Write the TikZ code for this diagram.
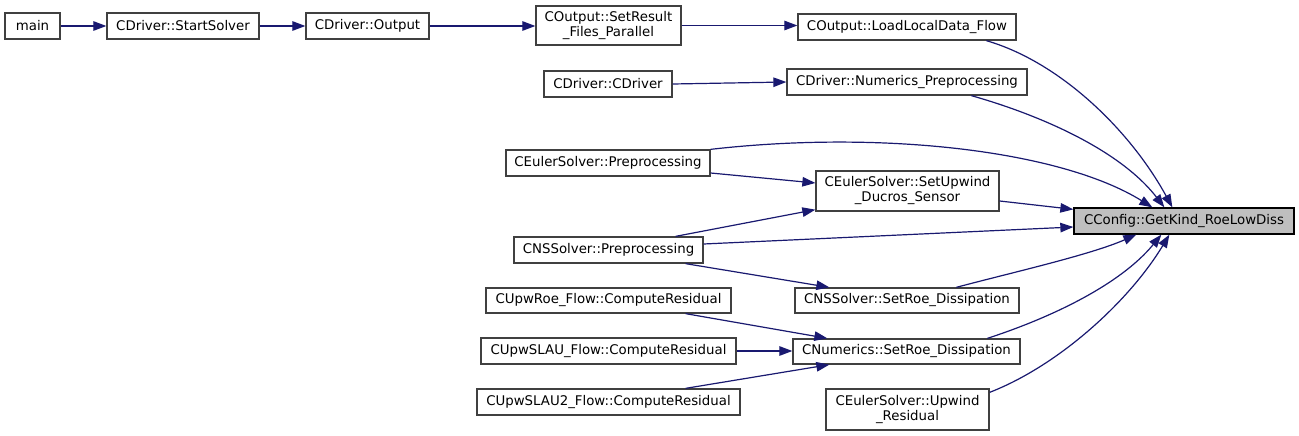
\documentclass[tikz,border=0pt]{standalone}
\usepackage{fontspec}
\setmainfont{DejaVu Sans}
\usetikzlibrary{arrows.meta,calc}
\definecolor{edgec}{RGB}{25,25,112}
\definecolor{boxc}{RGB}{64,64,64}
\definecolor{hl}{RGB}{191,191,191}
\tikzset{
  fn/.style={draw=boxc, line width=1.3pt, fill=white, inner sep=0pt, align=center,
    font=\fontsize{13.33}{15}\selectfont},
  hi/.style={fn, fill=hl, draw=black},
  e/.style={draw=edgec, line width=1.2pt, -{Triangle[length=13pt,width=9.5pt]}}
}
\begin{document}
\begin{tikzpicture}[x=1pt,y=-1pt]
\path[use as bounding box, fill=white] (0,0) rectangle (1299,436);
% nodes
\node[fn, minimum width=55, minimum height=26] (main) at (32.5,26) {main};
\node[fn, minimum width=152, minimum height=26] (ss) at (183,26) {CDriver::StartSolver};
\node[fn, minimum width=123, minimum height=26] (out) at (367.5,26) {CDriver::Output};
\node[fn, minimum width=145, minimum height=39] (sr) at (608.5,25.5) {COutput::SetResult\\\_Files\_Parallel};
\node[fn, minimum width=218, minimum height=26] (ll) at (907,27) {COutput::LoadLocalData\_Flow};
\node[fn, minimum width=128, minimum height=26] (cd) at (608,84) {CDriver::CDriver};
\node[fn, minimum width=240, minimum height=26] (np) at (907,82) {CDriver::Numerics\_Preprocessing};
\node[fn, minimum width=204, minimum height=26] (cep) at (608,163) {CEulerSolver::Preprocessing};
\node[fn, minimum width=183, minimum height=40] (duc) at (907.5,191) {CEulerSolver::SetUpwind\\\_Ducros\_Sensor};
\node[hi, minimum width=220, minimum height=26] (tg) at (1184,221) {CConfig::GetKind\_RoeLowDiss};
\node[fn, minimum width=189, minimum height=26] (cnp) at (608.5,250) {CNSSolver::Preprocessing};
\node[fn, minimum width=224, minimum height=25] (csr) at (907,300.5) {CNSSolver::SetRoe\_Dissipation};
\node[fn, minimum width=245, minimum height=25] (cur) at (608.5,300.5) {CUpwRoe\_Flow::ComputeResidual};
\node[fn, minimum width=227, minimum height=25] (cns) at (906.5,351.5) {CNumerics::SetRoe\_Dissipation};
\node[fn, minimum width=255, minimum height=26] (csl) at (608.5,351) {CUpwSLAU\_Flow::ComputeResidual};
\node[fn, minimum width=263, minimum height=26] (cs2) at (608.5,402) {CUpwSLAU2\_Flow::ComputeResidual};
\node[fn, minimum width=163, minimum height=41] (uwr) at (907.5,409.5) {CEulerSolver::Upwind\\\_Residual};
% edges
\draw[e] (main) -- (ss);
\draw[e] (ss) -- (out);
\draw[e] (out.east) -- (out.east -| sr.west);
\draw[e] (sr.east) -- (sr.east -| ll.west);
\draw[e] (cd.east) -- (np.west);
\draw[e] ($(ll.south west)+(189,0)$) .. controls (1060,62) and (1130,130) .. ($(tg.north west)+(99,0)$);
\draw[e] ($(np.south west)+(185,0)$) .. controls (1040,115) and (1120,150) .. ($(tg.north west)+(91,0)$);
\draw[e] (cep.north east) .. controls (880,130) and (1060,150) .. ($(tg.north west)+(79,0)$);
\draw[e] ($(cep.east)+(0,10)$) -- ($(duc.west)+(0,-8)$);
\draw[e] ($(cnp.north east)+(-28,0)$) -- ($(duc.south west)+(0,-2)$);
\draw[e] ($(duc.east)+(0,10)$) -- ($(tg.north west)+(0,2)$);
\draw[e] ($(cnp.east)+(0,-6)$) -- ($(tg.west)+(0,6)$);
\draw[e] ($(cnp.south east)+(-18,0)$) -- ($(csr.north west)+(35,0)$);
\draw[e] ($(csr.north west)+(162,0)$) .. controls (1010,273) and (1090,255) .. ($(tg.south west)+(63,0)$);
\draw[e] ($(cur.south east)+(-46,0)$) -- ($(cns.north west)+(35,0)$);
\draw[e] (csl.east) -- (csl.east -| cns.west);
\draw[e] ($(cs2.north east)+(-55,0)$) -- ($(cns.south west)+(37,0)$);
\draw[e] ($(cns.north west)+(195,0)$) .. controls (1050,318) and (1120,285) .. ($(tg.south west)+(88,0)$);
\draw[e] ($(uwr.north east)+(0,4)$) .. controls (1060,365) and (1130,300) .. ($(tg.south west)+(96,0)$);
\end{tikzpicture}
\end{document}
